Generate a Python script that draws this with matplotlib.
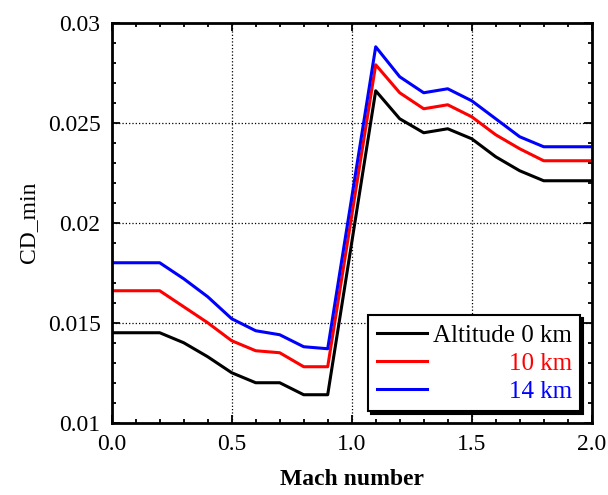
import matplotlib
matplotlib.use("Agg")
import matplotlib.pyplot as plt
from matplotlib.ticker import MultipleLocator, FormatStrFormatter

plt.rcParams['font.family'] = ['Liberation Serif', 'DejaVu Serif']

# Mach number and CD_min
mach = [0.0, 0.2, 0.3, 0.4, 0.5, 0.6, 0.7, 0.8, 0.9, 1.1, 1.2, 1.3, 1.4, 1.5, 1.6, 1.7, 1.8, 2.0]
cd_0km = [0.0145, 0.0145, 0.0140, 0.0133, 0.0125, 0.0120, 0.0120, 0.0114, 0.0114,
          0.0266, 0.0252, 0.0245, 0.0247, 0.0242, 0.0233, 0.0226, 0.0221, 0.0221]
cd_10km = [0.0166, 0.0166, 0.0158, 0.0150, 0.0141, 0.0136, 0.0135, 0.0128, 0.0128,
           0.0279, 0.0265, 0.0257, 0.0259, 0.0253, 0.0244, 0.0237, 0.0231, 0.0231]
cd_14km = [0.0180, 0.0180, 0.0172, 0.0163, 0.0152, 0.0146, 0.0144, 0.0138, 0.0137,
           0.0288, 0.0273, 0.0265, 0.0267, 0.0261, 0.0252, 0.0243, 0.0238, 0.0238]
labels = ['Altitude 0 km', '10 km', '14 km']
colors = ['black', 'red', 'blue']

fig = plt.figure(figsize=(6.08, 4.95), dpi=100)
ax = fig.add_axes([0.1837, 0.146, 0.7895, 0.808])

for y, lab, col in zip([cd_0km, cd_10km, cd_14km], labels, colors):
    ax.plot(mach, y, color=col, lw=2.2, label=lab)

ax.set_xlim(0, 2.0)
ax.set_ylim(0.01, 0.03)
ax.xaxis.set_major_locator(MultipleLocator(0.5))
ax.xaxis.set_minor_locator(MultipleLocator(0.1))
ax.yaxis.set_major_locator(MultipleLocator(0.005))
ax.yaxis.set_minor_locator(MultipleLocator(0.001))
ax.xaxis.set_major_formatter(FormatStrFormatter('%.1f'))
ax.yaxis.set_major_formatter(FormatStrFormatter('%g'))
ax.tick_params(which='both', direction='in', top=True, right=True, width=1.3)
ax.tick_params(which='major', length=6, labelsize=17, pad=8)
ax.tick_params(which='minor', length=3)
for s in ax.spines.values():
    s.set_linewidth(2)
ax.grid(True, which='major', ls=':', color='black', lw=0.9)

ax.set_xlabel('Mach number', fontsize=17, fontweight='bold', labelpad=10)
ax.set_ylabel('CD_min', fontsize=17, labelpad=6)

leg = ax.legend(loc='lower right', fontsize=18, fancybox=False, framealpha=1,
                edgecolor='black', shadow={'color': 'black', 'alpha': 1},
                handlelength=2.0, handletextpad=0.25, labelspacing=0.22,
                borderpad=0.35, borderaxespad=0.45)
leg.get_frame().set_linewidth(1.5)
for t, col in zip(leg.get_texts(), colors):
    t.set_color(col)

# right-align the legend texts
fig.canvas.draw()
r = fig.canvas.get_renderer()
widths = [t.get_window_extent(r).width for t in leg.get_texts()]
for t, w in zip(leg.get_texts(), widths):
    t.set_x(max(widths) - w)

fig.savefig('out.png', dpi=100)
